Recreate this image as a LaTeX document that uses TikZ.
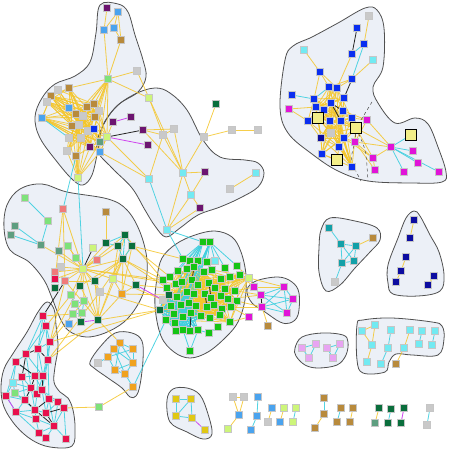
\documentclass[tikz,border=0pt]{standalone}
\usepackage{tikz}

\pgfdeclarelayer{blobs}
\pgfdeclarelayer{bloblines}
\pgfdeclarelayer{edges}
\pgfsetlayers{blobs,bloblines,edges,main}

\definecolor{blobfill}{HTML}{ECF0F7}
\definecolor{blobedge}{HTML}{505050}
\definecolor{lnGold}{HTML}{F4C62C}
\definecolor{lnCyan}{HTML}{3FCFDF}
\definecolor{lnMag}{HTML}{CF45EE}
\definecolor{cPur}{HTML}{6C1470}
\definecolor{cLBl}{HTML}{4AA3EE}
\definecolor{cBrn}{HTML}{B88A3C}
\definecolor{cGry}{HTML}{C9C9C9}
\definecolor{cLGr}{HTML}{7EE27A}
\definecolor{cBlu}{HTML}{0A2EF0}
\definecolor{cTGr}{HTML}{5E9E80}
\definecolor{cLim}{HTML}{CDF57A}
\definecolor{cCya}{HTML}{72EAF2}
\definecolor{cDGr}{HTML}{0A6E3C}
\definecolor{cMag}{HTML}{E014D8}
\definecolor{cNav}{HTML}{0C0CA0}
\definecolor{cRed}{HTML}{E8104C}
\definecolor{cGrn}{HTML}{14C414}
\definecolor{cOrg}{HTML}{F0A21E}
\definecolor{cSal}{HTML}{F07A7A}
\definecolor{cTea}{HTML}{12A0A8}
\definecolor{cLav}{HTML}{E8A4F2}
\definecolor{cYel}{HTML}{E0C814}
\definecolor{cPal}{HTML}{F2EE88}

% one cluster outline: filled below, stroked on top of all fills
\newcommand{\drawblob}[1]{%
  \begin{pgfonlayer}{blobs}\fill[blobfill] plot[smooth cycle,tension=0.6] coordinates {#1};\end{pgfonlayer}
  \begin{pgfonlayer}{bloblines}\draw[blobedge,line width=0.8pt] plot[smooth cycle,tension=0.6] coordinates {#1};\end{pgfonlayer}}

\tikzset{
  sq/.style={rectangle,minimum size=7pt,inner sep=0pt,draw=white!55!gray,line width=0.3pt},
  bigsq/.style={rectangle,minimum size=11pt,inner sep=0pt,draw=black,line width=0.7pt,fill=cPal},
  goldln/.style={lnGold,line width=0.8pt,opacity=0.85},
  cyanln/.style={lnCyan,line width=0.8pt,opacity=0.9},
  magln/.style={lnMag,line width=0.8pt},
  blackln/.style={black!85,line width=0.8pt},
  dashln/.style={black!70,line width=0.5pt,dashed}
}

\begin{document}
\begin{tikzpicture}[x=1pt,y=-1pt]
\useasboundingbox (0,0) rectangle (450,450);

% clusters
\drawblob{(100,5) (118,4) (128,12) (135,35) (143,60) (146,77) (138,92) (118,105) (103,125) (98,150) (92,175) (83,185) (73,180) (58,163) (40,138) (35,117) (42,98) (55,84) (75,76) (90,62) (96,33)}
\drawblob{(97,150) (101,130) (115,108) (135,94) (155,88) (170,93) (187,110) (203,140) (220,157) (245,160) (258,163) (264,173) (258,187) (240,198) (220,207) (198,215) (180,228) (166,237) (155,226) (145,210) (132,188) (112,168)}
\drawblob{(7,205) (20,189) (42,184) (67,192) (108,199) (127,210) (140,232) (147,260) (145,287) (137,306) (124,322) (105,333) (86,337) (69,331) (60,318) (52,298) (44,280) (29,262) (10,250) (4,228)}
\drawblob{(47,302) (54,309) (56,325) (58,347) (55,367) (54,382) (60,392) (68,398) (73,410) (75,428) (72,446) (50,447) (32,440) (16,426) (4,407) (1,388) (4,369) (14,352) (27,332) (38,312)}
\drawblob{(90,362) (100,347) (115,333) (132,333) (142,341) (143,360) (140,385) (136,396) (130,397) (122,388) (108,378) (94,368)}
\drawblob{(157,278) (162,258) (176,244) (195,235) (215,231) (232,237) (241,252) (246,275) (245,300) (238,322) (226,337) (208,352) (190,358) (174,352) (161,336) (155,306)}
\drawblob{(247,290) (256,281) (278,277) (292,282) (299,293) (298,315) (290,323) (280,322) (265,312) (252,303)}
\drawblob{(321,230) (330,218) (355,221) (377,228) (380,240) (370,252) (355,268) (340,285) (326,291) (319,272) (319,248)}
\drawblob{(388,283) (388,265) (398,238) (406,218) (414,211) (420,216) (430,235) (439,252) (444,275) (440,291) (418,296) (393,294)}
\drawblob{(295,348) (302,337) (322,333) (343,335) (348,342) (346,355) (337,365) (318,368) (305,365) (296,356)}
\drawblob{(357,325) (363,320) (392,318) (432,322) (442,326) (444,339) (438,355) (412,355) (396,354) (389,362) (385,372) (363,373) (357,360)}
\drawblob{(167,400) (173,389) (187,388) (200,395) (208,414) (212,434) (203,439) (187,432) (170,422)}
\drawblob{(285,60) (293,46) (312,37) (338,23) (365,8) (377,10) (384,28) (383,67) (373,87) (378,103) (395,123) (415,118) (428,124) (438,147) (446,172) (442,182) (412,183) (368,181) (338,171) (312,154) (288,133) (280,107)}

% nodes: upper left
\foreach \n/\x/\y/\c in {a1/107/8/cPur, a2/118/12/cLBl, a3/104/30/cLBl, a4/114/28/cLBl, a5/121/40/cBrn,
    a6/108/79/cLGr, a7/137/71/cGry, a8/69/88/cBrn, a9/58/90/cGry, a10/51/96/cBrn, a11/47/102/cGry,
    a12/69/108/cLBl, a13/87/107/cBrn, a14/94/104/cBrn, a15/99/111/cGry, a16/76/114/cBrn, a17/83/116/cGry,
    a18/95/117/cBrn, a19/42/118/cLBl, a20/72/126/cBrn, a21/79/125/cGry, a22/88/131/cGry, a23/94/129/cBlu,
    a24/69/138/cGry, a25/81/138/cGry, a26/100/142/cTGr, a27/107/137/cLim, a28/100/152/cLBl, a29/90/147/cPur,
    a30/67/151/cGry, a31/76/156/cBrn, a32/78/178/cLim,
    b1/149/98/cLim, b2/113/122/cPur, b3/131/117/cPur, b4/143/130/cPur, b5/174/129/cGry, b6/163/135/cGry,
    b7/148/145/cPur, b8/149/179/cCya, b9/183/173/cCya, b10/205/172/cPur, b11/191/195/cCya, b12/200/208/cPur,
    b13/204/137/cGry, b14/216/104/cDGr, b15/232/130/cGry, b16/258/130/cGry, b17/230/189/cGry, b18/256/173/cCya,
    b19/167/230/cCya}
  \node[sq,fill=\c] (\n) at (\x,\y) {};

% nodes: left middle
\foreach \n/\x/\y/\c in {c1/25/198/cLGr, c2/63/209/cSal, c3/106/212/cBrn, c4/48/221/cLGr, c5/15/226/cTGr,
    c6/11/235/cTGr, c7/41/245/cTGr, c8/59/251/cTGr, c9/68/246/cLGr, c10/93/248/cLim, c11/106/243/cDGr,
    c12/125/235/cDGr, c13/118/246/cDGr, c14/132/246/cDGr, c15/123/259/cDGr, c16/76/258/cLGr, c17/97/260/cSal,
    c18/83/269/cLim, c19/61/267/cGry, c20/55/272/cSal, c21/55/279/cRed, c22/65/281/cSal, c23/95/281/cDGr,
    c24/113/279/cLim, c25/55/288/cDGr, c26/80/286/cDGr, c27/136/285/cDGr, c28/100/292/cGry, c29/122/294/cOrg,
    c30/71/295/cLGr, c31/84/301/cLGr, c32/75/304/cLGr, c33/82/313/cLGr, c34/73/314/cLGr, c35/69/324/cLBl,
    c36/81/322/cDGr, c37/98/320/cDGr}
  \node[sq,fill=\c] (\n) at (\x,\y) {};

% nodes: red and orange
\foreach \n/\x/\y/\c in {d1/43/316/cRed, d2/46/326/cRed, d3/50/342/cRed, d4/26/354/cRed, d5/38/349/cRed,
    d6/48/360/cRed, d7/16/362/cRed, d8/22/377/cRed, d9/35/376/cRed, d10/43/376/cRed, d11/13/383/cCya,
    d12/15/393/cLGr, d13/6/396/cRed, d14/31/388/cRed, d15/37/394/cRed, d16/42/390/cRed, d17/25/400/cRed,
    d18/49/399/cRed, d19/58/402/cRed, d20/64/408/cRed, d21/16/412/cRed, d22/35/410/cRed, d23/46/413/cRed,
    d24/36/419/cRed, d25/54/426/cRed, d26/39/433/cRed, d27/46/438/cRed, d28/66/439/cRed, d29/99/407/cLGr,
    e1/120/343/cOrg, e2/114/349/cOrg, e3/133/349/cOrg, e4/98/363/cGry, e5/108/357/cOrg, e6/115/370/cOrg,
    e7/133/363/cOrg, e8/125/374/cOrg, e9/133/387/cOrg}
  \node[sq,fill=\c] (\n) at (\x,\y) {};

% nodes: green core
\foreach \n/\x/\y/\c in {g1/203/242/cGrn, g2/210/242/cGrn, g3/183/259/cGrn, g4/190/261/cGrn, g5/198/261/cGrn,
    g6/207/262/cGrn, g7/215/261/cCya, g8/225/268/cGrn, g9/237/266/cGrn, g10/163/280/cGrn, g11/170/277/cGrn,
    g12/178/271/cGrn, g13/187/269/cGrn, g14/194/267/cGrn, g15/204/272/cGrn, g16/212/270/cGrn, g17/221/279/cGrn,
    g18/230/277/cGrn, g19/240/275/cGrn, g20/249/278/cLim, g21/167/288/cGrn, g22/176/284/cGrn, g23/182/282/cGrn,
    g24/192/280/cGrn, g25/198/285/cGrn, g26/209/283/cGrn, g27/215/288/cGrn, g28/225/289/cGrn, g29/235/291/cGrn,
    g30/163/300/cGry, g31/169/295/cDGr, g32/177/297/cGrn, g33/187/292/cGrn, g34/194/294/cGrn, g35/205/294/cGrn,
    g36/211/298/cGrn, g37/221/296/cGrn, g38/228/299/cGrn, g39/237/301/cGrn, g40/160/310/cDGr, g41/171/306/cGrn,
    g42/181/305/cGrn, g43/189/303/cGrn, g44/196/306/cGrn, g45/207/307/cGrn, g46/214/305/cGrn, g47/222/309/cGrn,
    g48/231/307/cGrn, g49/166/320/cGrn, g50/174/314/cGrn, g51/183/317/cGrn, g52/191/313/cGrn, g53/201/316/cGrn,
    g54/210/318/cGrn, g55/220/315/cGrn, g56/230/322/cGrn, g57/175/323/cGrn, g58/176/331/cGrn, g59/183/330/cGrn,
    g60/190/331/cGrn, g61/198/330/cGrn, g62/209/333/cGrn, g63/218/327/cGrn, g64/190/351/cGrn}
  \node[sq,fill=\c] (\n) at (\x,\y) {};

% nodes: right side small groups
\foreach \n/\x/\y/\c in {m1/254/287/cMag, m2/284/287/cMag, m3/261/295/cMag, m4/293/299/cMag, m5/262/307/cMag,
    m6/287/313/cMag, m7/249/317/cMag, m8/268/326/cBrn,
    h1/329/228/cTea, h2/341/244/cTea, h3/356/246/cTea, h4/342/263/cTea, h5/354/261/cTea, h6/373/238/cBrn, h7/335/282/cGry,
    n1/414/220/cNav, n2/410/238/cNav, n3/406/257/cNav, n4/401/271/cNav, n5/396/282/cNav, n6/434/276/cNav, n7/428/285/cNav,
    l1/302/348/cLav, l2/316/344/cLav, l3/309/358/cLav, l4/327/348/cLav, l5/340/344/cLav, l6/333/358/cLav,
    k1/362/331/cCya, k2/375/325/cCya, k3/372/345/cCya, k4/367/362/cCya, k5/391/330/cCya, k6/388/348/cCya,
    k7/381/364/cCya, k8/410/330/cCya, k9/404/348/cCya, k10/396/364/cBrn, k11/422/331/cCya, k12/419/344/cCya,
    k13/435/331/cCya, k14/432/345/cCya,
    y1/176/399/cYel, y2/191/399/cYel, y3/176/416/cYel, y4/192/418/cYel, y5/205/430/cYel}
  \node[sq,fill=\c] (\n) at (\x,\y) {};

% nodes: top right
\foreach \n/\x/\y/\c in {t1/369/16/cGry, t2/357/28/cBlu, t3/364/44/cBlu, t4/352/54/cBlu, t5/304/50/cCya,
    t6/373/60/cCya, t7/320/72/cBlu, t8/352/79/cBlu, t9/329/87/cBlu, t10/337/88/cBlu, t11/292/95/cBlu,
    t12/314/99/cBlu, t13/289/109/cMag, t14/344/98/cBlu, t15/331/103/cBlu, t16/316/107/cBlu, t17/324/110/cBlu,
    t18/343/111/cBlu, t20/308/121/cBlu, t21/330/121/cBlu, t22/341/121/cBlu, t23/352/118/cBlu, t24/367/120/cMag,
    t26/331/133/cGry, t27/321/138/cNav, t28/344/138/cBlu, t29/355/142/cMag, t30/339/147/cBlu, t32/391/147/cMag,
    t33/413/151/cMag, t34/373/158/cMag, t36/322/154/cBlu, t37/418/163/cMag, t38/375/170/cMag, t39/352/167/cBlu,
    t40/404/172/cMag, t41/439/172/cMag}
  \node[sq,fill=\c] (\n) at (\x,\y) {};
\foreach \n/\x/\y in {t19/318/118, t25/356/128, t31/411/135, t35/337/160}
  \node[bigsq] (\n) at (\x,\y) {};

% nodes: loose pairs along the bottom
\foreach \n/\x/\y/\c in {u1/233/397/cGry, u2/244/397/cGry, u3/239/415/cLBl, u4/228/429/cLim,
    u5/258/397/cLBl, u6/257/416/cLBl, u7/251/430/cLBl, u8/272/408/cLBl, u9/268/422/cGry,
    u10/284/408/cLim, u11/280/422/cLBl, u12/296/408/cLim, u13/293/422/cLim,
    u14/324/398/cBrn, u15/324/414/cBrn, u16/315/428/cBrn, u17/341/408/cBrn, u18/337/422/cBrn,
    u19/353/408/cBrn, u20/350/422/cBrn, u21/379/408/cDGr, u22/375/423/cTGr, u23/391/409/cDGr,
    u24/388/423/cDGr, u25/404/408/cDGr, u26/401/423/cDGr, u27/430/408/cGry, u28/427/425/cGry}
  \node[sq,fill=\c] (\n) at (\x,\y) {};
\coordinate (dA) at (372,102);
\coordinate (dB) at (361,181);
\coordinate (dC) at (368,181);

\begin{pgfonlayer}{edges}
% upper left mesh
\foreach \p/\q in {a1/a3, a2/a3, a2/a4, a2/a5, a4/a5, a3/a6, a5/a6, a6/a7, a7/b1, a6/b1,
    a6/a8, a6/a13, a6/a14, a6/a16, a6/a18, a6/a20, a6/a22, a6/a23, a6/a26, a6/a27, a6/a31,
    a32/a20, a32/a22, a32/a24, a32/a25, a32/a31, a32/a26, a32/a28, a32/a21, a32/a30, a32/a29, a32/a16,
    a27/b8, a28/b8, a27/b2, b4/b5, b4/b6, b4/b9, b1/b6, b1/b9, b6/b8, b6/b9, b5/b9, b5/b6,
    b9/b13, b13/b14, b13/b15, b15/b16, b9/b10, b9/b11, b10/b11, b11/b12, b9/b19, b11/b19, b12/b19, b17/b18}
  \draw[goldln] (\p) -- (\q);
\pgfmathsetseed{11}
\foreach \k in {1,...,120}{
  \pgfmathrandominteger{\i}{8}{31}
  \pgfmathrandominteger{\j}{8}{31}
  \draw[goldln] (a\i.center) -- (a\j.center);
}
\draw[cyanln] (a19) -- (a24);
\draw[cyanln] (a31) -- (c2);
\draw[cyanln] (a32) -- (c18);
\draw[cyanln] (b8) -- (b19);
\draw[magln] (b2) -- (b3);
\draw[magln] (a27) -- (b7);
\draw[blackln] (a27) -- (b4);

% left middle
\foreach \p/\q in {c2/c18, c2/c22, c2/c21, c3/c11, c7/c18, c8/c18, c9/c18, c16/c18, c17/c18, c19/c18,
    c20/c18, c21/c18, c22/c18, c23/c18, c24/c18, c26/c18, c11/c18, c13/c18, c15/c18, c12/c18,
    c15/c23, c15/c24, c15/c26, c15/c27, c15/c29, c15/c37, c15/c28, c18/c28, c18/c30, c18/c31, c18/c37,
    c24/c37, c23/c37, c28/c37, c29/c37, c22/c37, c26/c37, c23/c28, c9/c16, c24/c29, c22/c23, c12/c24,
    c13/c24, c14/c29, c27/c29, c14/c15,
    c12/g10, c14/g11, c15/g10, c15/g21, c27/g21, c24/g30, c29/g31, c37/g40, c28/g40, c14/g3, c18/g10, c18/g22,
    c22/d3, c26/d3, c31/d3, c28/d6, c34/d1, c30/d2, c37/e1, d6/c37, d3/g40, d20/d29, d29/e9}
  \draw[goldln] (\p) -- (\q);
\foreach \p/\q in {c1/c4, c4/c7, c5/c7, c6/c7, c11/c12, c11/c13, c12/c13, c12/c14, c13/c15, c14/c15,
    c12/c15, c31/c32, c32/c33, c33/c34, c31/c33, c30/c32}
  \draw[cyanln] (\p) -- (\q);
\draw[blackln] (c10) -- (c18);
\draw[blackln] (c22) -- (d1);
\draw[magln] (c36) -- (c37);
\draw[magln] (c27) -- (g30);

% red group
\foreach \p/\q in {d1/d2, d2/d3, d1/d4, d2/d5, d3/d6, d4/d7, d8/d9, d9/d10, d7/d11, d11/d12,
    d11/d13, d12/d17, d13/d17, d15/d16, d16/d18, d18/d19, d22/d23, d24/d26, d26/d27, d25/d28,
    d21/d22, d5/d10, d3/d10, d6/d16, d8/d14, d10/d15, d13/d21, d22/d24, d23/d18, d19/d25, d20/d25,
    d12/d22, d1/d5, d2/d6, d3/d5, d7/d13, d11/d14, d17/d14, d20/d28, d27/d25, d24/d25, d11/d8,
    d4/d10, d7/d9, d12/d14, d21/d24, d26/d25, d16/d19, d6/d10, d17/d21, d2/d4, d15/d22,
    d4/d14, d5/d15, d6/d18, d8/d17, d9/d16, d14/d22, d16/d23, d18/d25, d19/d23, d21/d26}
  \draw[cyanln] (\p) -- (\q);
\foreach \p/\q in {d4/d5, d5/d6, d4/d8, d7/d9, d14/d17, d17/d22, d22/d25, d18/d22, d19/d20,
    d20/d23, d16/d15, d23/d25, d10/d16, d9/d14}
  \draw[blackln] (\p) -- (\q);
\draw[magln] (d21) -- (d13);

% orange group
\foreach \p/\q in {e1/e2, e1/e3, e2/e5, e4/e5, e5/e6, e3/e7, e6/e8, e7/e8, e8/e9, e2/e7, e3/e5,
    e1/e6, e2/e8, e6/e7, e1/e7, e9/g49}
  \draw[cyanln] (\p) -- (\q);

% green core
\pgfmathsetseed{5}
\foreach \k in {1,...,300}{
  \pgfmathrandominteger{\i}{12}{56}
  \pgfmathrandominteger{\j}{12}{56}
  \draw[goldln] (g\i.center) -- (g\j.center);
}
\pgfmathdeclarerandomlist{lowleft}{{g30}{g31}{g32}{g33}{g40}{g41}{g42}{g43}{g44}{g49}{g50}{g51}{g52}{g53}{g57}{g58}{g59}{g60}{g61}}
\pgfmathsetseed{9}
\foreach \k in {1,...,150}{
  \pgfmathrandomitem{\p}{lowleft}
  \pgfmathrandomitem{\q}{lowleft}
  \draw[cyanln] (\p.center) -- (\q.center);
}
\foreach \p/\q in {g1/g3, g1/g4, g1/g12, g1/g22, g1/g41, g1/g50, g2/g57, g2/g59, g2/g33, g2/g6,
    g2/g8, g2/g9, g1/g11, g2/g42, b19/g3, b19/g1, g64/g59, g64/g61, g62/g61, g63/g62, g2/g7,
    g1/g51, g2/g43, g1/g32, g2/g58}
  \draw[cyanln] (\p) -- (\q);
\foreach \p/\q in {g14/g24, g35/g45, g52/g60, g26/g36}
  \draw[blackln] (\p) -- (\q);
\draw[magln] (g4) -- (g13);
\foreach \p/\q in {m1/g19, m1/g29, m3/g28, m3/g38, m5/g39, m5/g48, m7/g48, m7/g56, g20/m1, m2/g20,
    m1/m2, m5/m8, g19/g20, g9/g20}
  \draw[goldln] (\p) -- (\q);

% magenta group
\foreach \p/\q in {m2/m3, m2/m4, m3/m4, m3/m6, m5/m6, m5/m4, m2/m5, m2/m6, m4/m6, m1/m3}
  \draw[cyanln] (\p) -- (\q);
\draw[blackln] (m3) -- (m5);

% small groups on the right
\foreach \p/\q in {h1/h2, h2/h3, h2/h4, h2/h5, h3/h4, h3/h5, h4/h5, h4/h7,
    l1/l2, l1/l3, l2/l3, l4/l5, l4/l6, l5/l6, k5/k6, k6/k7, k11/k12, k13/k14,
    y1/y2, y1/y3, y2/y4, y3/y4, y2/y3}
  \draw[cyanln] (\p) -- (\q);
\foreach \p/\q in {h3/h6, n1/n2, n3/n4, n4/n5, n6/n7, k1/k2, k2/k3, k1/k3, k3/k4, k8/k9, k9/k10}
  \draw[goldln] (\p) -- (\q);
\draw[magln] (y4) -- (y5);

% top right
\foreach \p/\q in {t1/t3, t5/t7, t7/t9, t7/t12, t7/t10, t4/t10, t6/t8, t8/t9, t8/t10, t13/t16, t13/t20,
    t24/t29, t25/t29, t24/t23, t24/t18, t29/t32, t29/t34, t28/t34, t24/t32, t25/t32, t34/t38, t29/t38,
    t30/t39, t36/t35, t30/t35, t27/t36, t28/t39, t25/t34, t23/t25, t22/t25, t20/t27, t9/t16, t10/t18,
    t28/t29, t32/t34}
  \draw[goldln] (\p) -- (\q);
\pgfmathdeclarerandomlist{tmesh}{{t9}{t10}{t12}{t14}{t15}{t16}{t17}{t18}{t19}{t20}{t21}{t22}{t23}{t25}{t26}{t27}{t28}{t30}{t36}{t39}}
\pgfmathsetseed{17}
\foreach \k in {1,...,100}{
  \pgfmathrandomitem{\p}{tmesh}
  \pgfmathrandomitem{\q}{tmesh}
  \draw[goldln] (\p.center) -- (\q.center);
}
\foreach \p/\q in {t3/t4, t3/t8, t11/t12, t9/t12, t32/t31, t32/t33, t32/t37, t32/t40, t32/t41}
  \draw[cyanln] (\p) -- (\q);
\foreach \p/\q in {t2/t4, t8/t14, t15/t22, t15/t18}
  \draw[blackln] (\p) -- (\q);
\draw[dashln] (dA) -- (t25) -- (t29);
\draw[dashln] (t29) .. controls (350,160) .. (dB);
\draw[dashln] (t25) .. controls (366,150) .. (dC);

% loose pairs
\foreach \p/\q in {u1/u2, u1/u3, u2/u3, u3/u4, u8/u9, u10/u11, u15/u16, u19/u20, u21/u22}
  \draw[goldln] (\p) -- (\q);
\foreach \p/\q in {u5/u6, u6/u7, u12/u13, u14/u15, u17/u18, u23/u24, u27/u28}
  \draw[cyanln] (\p) -- (\q);
\draw[magln] (u25) -- (u26);
\end{pgfonlayer}

\end{tikzpicture}
\end{document}
